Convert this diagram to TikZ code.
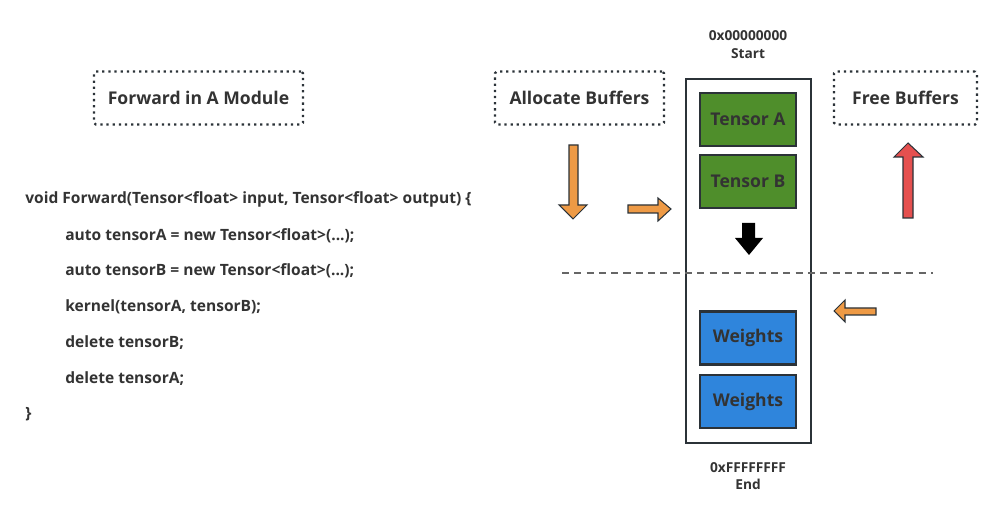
\documentclass[tikz,border=0pt]{standalone}
\usepackage{fontspec}
\setmainfont{Open Sans}
\usetikzlibrary{positioning}
\definecolor{ink}{HTML}{333333}
\definecolor{edge}{HTML}{2B3238}
\definecolor{tgreen}{HTML}{4F8E2B}
\definecolor{wblue}{HTML}{2F85DC}
\definecolor{aorange}{HTML}{EE9A45}
\definecolor{ared}{HTML}{E5504F}
\tikzset{
  label box/.style={draw=edge,line width=1.3pt,dash pattern=on 1.3pt off 2.2pt,
    rounded corners=1pt,text=ink,minimum height=1.06cm,font=\bfseries\fontsize{10}{12}\selectfont},
  cell/.style={draw=edge,line width=1.6pt,minimum width=1.92cm,minimum height=1.06cm,
    text=ink,font=\bfseries\fontsize{10}{12}\selectfont},
  addr/.style={text=ink,font=\bfseries\fontsize{7.8}{9}\selectfont,align=center},
  code/.style={text=ink,font=\bfseries\fontsize{8.85}{10}\selectfont,anchor=west,inner sep=0},
  blockarrow/.style={draw=edge,line width=0.6pt,line join=miter}
}
\begin{document}
\begin{tikzpicture}[x=0.02cm,y=-0.02cm]
\useasboundingbox(0,0)rectangle(1001,519);
% titles
\node[label box,minimum width=4.18cm](fwd)at(198.5,98){Forward in A Module};
\node[label box,minimum width=3.38cm](alloc)at(579.5,98){Allocate Buffers};
\node[label box,minimum width=2.86cm](free)at(905.5,98){Free Buffers};
% code
\node[code](l1)at(25,199){void Forward(Tensor<float> input, Tensor<float> output) \{};
\node[code](l2)at(65,236){auto tensorA = new Tensor<float>(...);};
\node[code](l3)at(65,271){auto tensorB = new Tensor<float>(...);};
\node[code](l4)at(65,307){kernel(tensorA, tensorB);};
\node[code](l5)at(65,343){delete tensorB;};
\node[code](l6)at(65,379){delete tensorA;};
\node[code](l7)at(25,414){\}};
% memory
\draw[draw=edge,line width=1.1pt](686,79)rectangle(811,443);
\node[cell,fill=tgreen](ta)at(748,119.5){Tensor A};
\node[cell,fill=tgreen](tb)at(748,181.5){Tensor B};
\node[cell,fill=wblue](w1)at(748,338){Weights};
\node[cell,fill=wblue](w2)at(748,401.5){Weights};
\node[addr](start)at(748,44.5){0x00000000\\[1pt]Start};
\node[addr](end)at(748,476){0xFFFFFFFF\\[1pt]End};
\draw[draw=gray!80!black,line width=0.8pt,dash pattern=on 4pt off 3pt](562,273)--(933,273);
% arrows
\fill[black](742,223)--(755,223)--(755,238)--(763,238)--(749,255)--(735,238)--(742,238)--cycle;
\draw[blockarrow,fill=aorange](569,145)--(578,145)--(578,205)--(587,205)--(573,219)--(559,205)--(569,205)--cycle;
\draw[blockarrow,fill=aorange](628,205)--(658,205)--(658,198)--(671,209)--(658,221)--(658,213)--(628,213)--cycle;
\draw[blockarrow,fill=ared](903,218)--(903,157)--(894,157)--(908,143)--(923,157)--(913,157)--(913,218)--cycle;
\draw[blockarrow,fill=aorange](876,308)--(845,308)--(845,300)--(834,311)--(845,322)--(845,315)--(876,315)--cycle;
\end{tikzpicture}
\end{document}
